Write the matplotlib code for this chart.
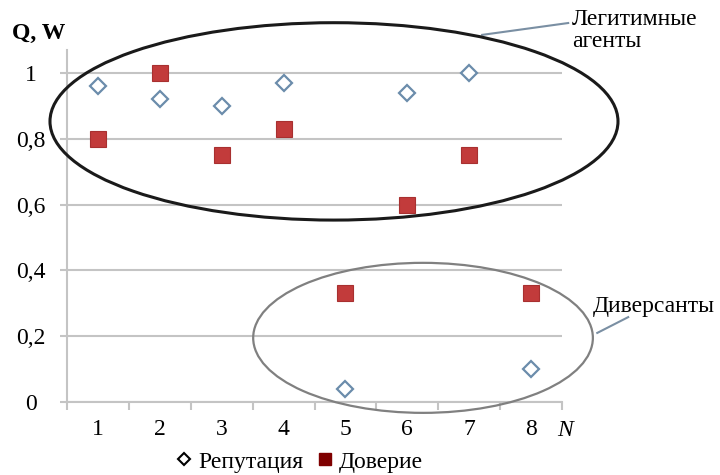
import matplotlib.pyplot as plt
from matplotlib.patches import Ellipse
from matplotlib.lines import Line2D

plt.rcParams['font.family'] = ['Liberation Serif', 'DejaVu Serif']

# данные
agents = [1, 2, 3, 4, 5, 6, 7, 8]
reputation = [0.96, 0.92, 0.90, 0.97, 0.04, 0.94, 1.00, 0.10]
trust = [0.80, 1.00, 0.75, 0.83, 0.33, 0.60, 0.75, 0.33]
y_ticks = [0, 0.2, 0.4, 0.6, 0.8, 1.0]
y_labels = ['0', '0,2', '0,4', '0,6', '0,8', '1']

grid_col = '#c4c4c4'
fs = 17

fig = plt.figure(figsize=(7.2, 4.75), dpi=100)
ax = fig.add_axes([67 / 720, 73 / 475, 495 / 720, 352 / 475])

ax.plot(agents, reputation, linestyle='none', marker='D', markersize=8,
        markerfacecolor='white', markeredgecolor='#6b8cab', markeredgewidth=1.6,
        label='Репутация', zorder=3)
ax.plot(agents, trust, linestyle='none', marker='s', markersize=12,
        markerfacecolor='#c23b3b', markeredgecolor='#a83030', markeredgewidth=0.8,
        label='Доверие', zorder=3)

ax.set_xlim(0.5, 8.5)
ax.set_ylim(0, 1.07)

# оси
for s in ['top', 'right']:
    ax.spines[s].set_visible(False)
for s in ['left', 'bottom']:
    ax.spines[s].set_color(grid_col)
    ax.spines[s].set_linewidth(1.5)

ax.set_yticks(y_ticks)
ax.set_yticklabels(y_labels, fontsize=fs, ha='center')
ax.tick_params(axis='y', length=5, width=1.5, color=grid_col, pad=21)
ax.grid(axis='y', color=grid_col, linewidth=1.5)
ax.set_axisbelow(True)

ax.set_xticks(agents)
ax.set_xticklabels([str(a) for a in agents], fontsize=fs)
ax.tick_params(axis='x', which='major', length=0, pad=12)
ax.set_xticks([a + 0.5 for a in [0] + agents], minor=True)
ax.tick_params(axis='x', which='minor', length=6, width=1.5, color=grid_col)

# эллипсы
ax.add_patch(Ellipse((4.815, 0.853), 9.18, 0.60, fill=False, edgecolor='#1a1a1a',
                     linewidth=2.2, clip_on=False, zorder=4))
ax.add_patch(Ellipse((6.254, 0.195), 5.49, 0.456, fill=False, edgecolor='#808080',
                     linewidth=1.6, clip_on=False, zorder=4))

# подписи групп
ax.plot([7.21, 8.60], [1.116, 1.152], color='#7a8fa3', linewidth=1.5, clip_on=False)
ax.text(8.66, 1.195, 'Легитимные\nагенты', fontsize=fs, ha='left', va='top',
        linespacing=1.1, clip_on=False)
ax.plot([9.07, 9.57], [0.21, 0.258], color='#7a8fa3', linewidth=1.5, clip_on=False)
ax.text(8.99, 0.29, 'Диверсанты', fontsize=fs, ha='left', va='center', clip_on=False)

fig.text(12 / 720, 1 - 33 / 475, 'Q, W', fontsize=fs, fontweight='bold', va='center')
fig.text(565 / 720, 1 - 430 / 475, 'N', fontsize=fs, style='italic', ha='center', va='center')

handles = [
    Line2D([], [], linestyle='none', marker='D', markersize=6, markerfacecolor='white',
           markeredgecolor='black', markeredgewidth=1.5),
    Line2D([], [], linestyle='none', marker='s', markersize=9, markerfacecolor='#7f0000',
           markeredgecolor='#7f0000'),
]
fig.legend(handles, ['Репутация', 'Доверие'], loc='center', bbox_to_anchor=(300 / 720, 1 - 462 / 475),
           ncol=2, frameon=False, fontsize=fs, handlelength=0.6, handletextpad=0.3,
           columnspacing=0.6, borderpad=0)

fig.savefig('out.png', dpi=100)
